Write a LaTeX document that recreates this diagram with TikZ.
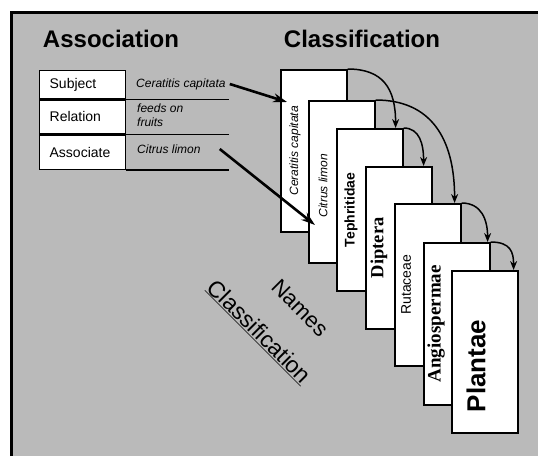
\documentclass[tikz,border=0pt]{standalone}
\usepackage{fontspec}
\setmainfont{Liberation Sans}
\newfontfamily\taxserif{Liberation Serif}
\usetikzlibrary{arrows.meta,positioning}

\newcommand{\fs}[1]{\fontsize{#1}{#1}\selectfont}

\begin{document}
\begin{tikzpicture}[x=1pt,y=-1pt,
  taxbox/.style={draw, line width=1.6pt, fill=white, anchor=north west,
    minimum width=66pt, minimum height=162pt, inner sep=0pt},
  taxname/.style={rotate=90, inner sep=0pt},
  cellbox/.style={draw, line width=1.3pt, fill=white, anchor=north west,
    text width=66pt, inner xsep=10pt, inner ysep=0pt, align=left, font=\fs{14}},
  cellval/.style={anchor=west, inner sep=0pt, align=left, font=\fs{12}\itshape},
  tabline/.style={line width=1.3pt},
  linkarrow/.style={line width=2.6pt, -{Stealth[length=14pt,width=9pt]}},
  rankarrow/.style={line width=1.5pt, -{Stealth[length=9pt,width=7pt]}}
]

  \useasboundingbox (0,0) rectangle (538,456);

  %% Stippled panel and frame
  \fill[black!27] (11,12) rectangle (538,456);
  \draw[line width=3pt] (11,456) -- (11,12) -- (538,12);

  %% Headings
  \node[font=\fs{24}\bfseries] (assochead) at (111,39) {Association};
  \node[font=\fs{24}\bfseries] (classhead) at (362,39) {Classification};

  %% Association table
  \node[cellbox, minimum height=28pt] (subj) at (39,70) {Subject};
  \node[cellbox, minimum height=34pt, below=0pt of subj.south west, anchor=north west] (rel) {Relation};
  \node[cellbox, minimum height=34pt, below=0pt of rel.south west, anchor=north west] (assoc) {Associate};
  \coordinate (tabend) at (229,0);
  \draw[tabline] (subj.south east) -- (subj.south -| tabend);
  \draw[tabline] (rel.south east) -- (rel.south -| tabend);
  \draw[tabline] (assoc.south east) -- (assoc.south -| tabend);

  \node[cellval] (subjval) at (136,84) {Ceratitis capitata};
  \node[cellval, font=\fontsize{12}{14}\selectfont\itshape] (relval) at (137,115) {feeds on\\fruits};
  \node[cellval] (assocval) at (137,149) {Citrus limon};

  %% Classification cards
  \node[taxbox] (cc) at (280,69) {};
  \node[taxname, font=\fs{12}\itshape] (ccname) at ([xshift=15pt]cc.west) {Ceratitis capitata};
  \node[taxbox] (cl) at (308,100) {};
  \node[taxname, font=\fs{12}\itshape] (clname) at ([xshift=15pt,yshift=-4pt]cl.west) {Citrus limon};
  \node[taxbox] (teph) at (336,128) {};
  \node[taxname, font=\fs{14}\bfseries] (tephname) at ([xshift=15pt]teph.west) {Tephritidae};
  \node[taxbox] (dipt) at (365,166) {};
  \node[taxname, font=\fs{18.5}\taxserif\bfseries] (diptname) at ([xshift=14pt]dipt.west) {Diptera};
  \node[taxbox] (ruta) at (394,203) {};
  \node[taxname, font=\fs{14}] (rutaname) at ([xshift=12pt]ruta.west) {Rutaceae};
  \node[taxbox] (angio) at (423,242) {};
  \node[taxname, font=\fs{19}\taxserif\bfseries] (angioname) at ([xshift=13pt]angio.west) {Angiospermae};
  \node[taxbox] (plant) at (451,270) {};
  \node[taxname, font=\fs{26}\bfseries] (plantname) at ([xshift=25pt,yshift=-14pt]plant.west) {Plantae};

  %% Names vs classification
  \node[rotate=-45, font=\fs{22}] (namesword) at (300,308) {Names};
  \node[rotate=-45, font=\fs{23}] (classword) at (259,332) {\underline{Classification}};

  %% Links from the association into the cards
  \coordinate (ccin) at ([xshift=7pt,yshift=-33pt]cc.north west);
  \coordinate (clin) at ([xshift=7pt,yshift=-125pt]cl.north west);
  \draw[linkarrow] ([xshift=4pt]subjval.east) -- (ccin);
  \draw[linkarrow] ([xshift=19pt]assocval.east) -- (clin);

  %% Rank arrows
  \draw[rankarrow] (cc.north east) .. controls +(35,0) and +(0,-40) .. ([xshift=-8pt]teph.north east);
  \draw[rankarrow] (cl.north east) .. controls +(55,0) and +(0,-65) .. ([xshift=-7pt]ruta.north east);
  \draw[rankarrow] (teph.north east) .. controls +(16,0) and +(0,-22) .. ([xshift=-9pt]dipt.north east);
  \draw[rankarrow] (ruta.north east) .. controls +(20,0) and +(0,-22) .. ([xshift=-3pt]angio.north east);
  \draw[rankarrow] (angio.north east) .. controls +(20,0) and +(0,-18) .. ([xshift=-5pt]plant.north east);

\end{tikzpicture}
\end{document}
